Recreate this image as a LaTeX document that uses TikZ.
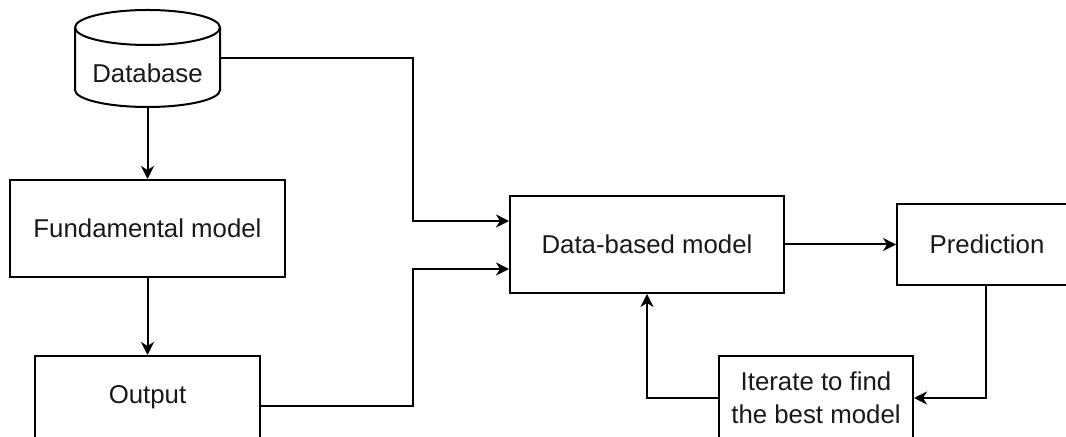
\documentclass[tikz,border=0pt]{standalone}
\usepackage{fontspec}
\setmainfont{Liberation Sans}
\usetikzlibrary{arrows.meta,calc}
\begin{document}
\begin{tikzpicture}[x=0.5pt,y=0.5pt,
  line width=1pt,
  every node/.style={font=\fontsize{12.9}{16.5}\selectfont, text=black!90},
  boxnode/.style={draw, rectangle, inner sep=0pt},
  arr/.style={-{Stealth[length=6.5pt,width=6.5pt,inset=2pt]}}]
\useasboundingbox (0,0) rectangle (1066,-437);
\fill[white] (0,0) rectangle (1066,-437);
\clip (0,0) rectangle (1066,-437);
% database cylinder
\node[inner sep=0pt, minimum width=72.5pt, minimum height=48.5pt] (db) at (147.5,-58.5) {};
\draw[fill=white] (75,-27.5) -- (75,-90) arc[start angle=180,end angle=360,x radius=36.25pt,y radius=8.5pt] -- (220,-27.5);
\draw (147.5,-27.5) ellipse[x radius=36.25pt,y radius=8.75pt];
\node (dbtext) at (147.5,-73) {Database};
% boxes
\node[boxnode, minimum width=137.5pt, minimum height=48.5pt] (fm) at (147.5,-228.5) {Fundamental model};
\node[boxnode, minimum width=112.5pt, minimum height=42pt] (out) at (147.5,-398) {};
\node (outtext) at (147.5,-397) {Output};
\node[boxnode, minimum width=137pt, minimum height=48.5pt] (dbm) at (647,-244.5) {Data-based model};
\node[boxnode, minimum width=90pt, minimum height=40.5pt] (pred) at (987,-244.5) {Prediction};
\node[boxnode, minimum width=97pt, minimum height=42pt, align=center] (iter) at (816,-398) {Iterate to find\\the best model};
\coordinate (jx) at (413,0);
% connectors
\draw[arr] (db.south) -- (fm.north);
\draw[arr] (fm.south) -- (out.north);
\draw[arr] (db.east) -- (db.east -| jx) |- ([yshift=11.75pt]dbm.west);
\draw[arr] ([yshift=-4pt]out.east) -- ([yshift=-4pt]out.east -| jx) |- ([yshift=-12.25pt]dbm.west);
\draw[arr] (dbm.east) -- (pred.west);
\draw[arr] ([xshift=-0.5pt]pred.south) |- (iter.east);
\draw[arr] (iter.west) -| (dbm.south);
\end{tikzpicture}
\end{document}
